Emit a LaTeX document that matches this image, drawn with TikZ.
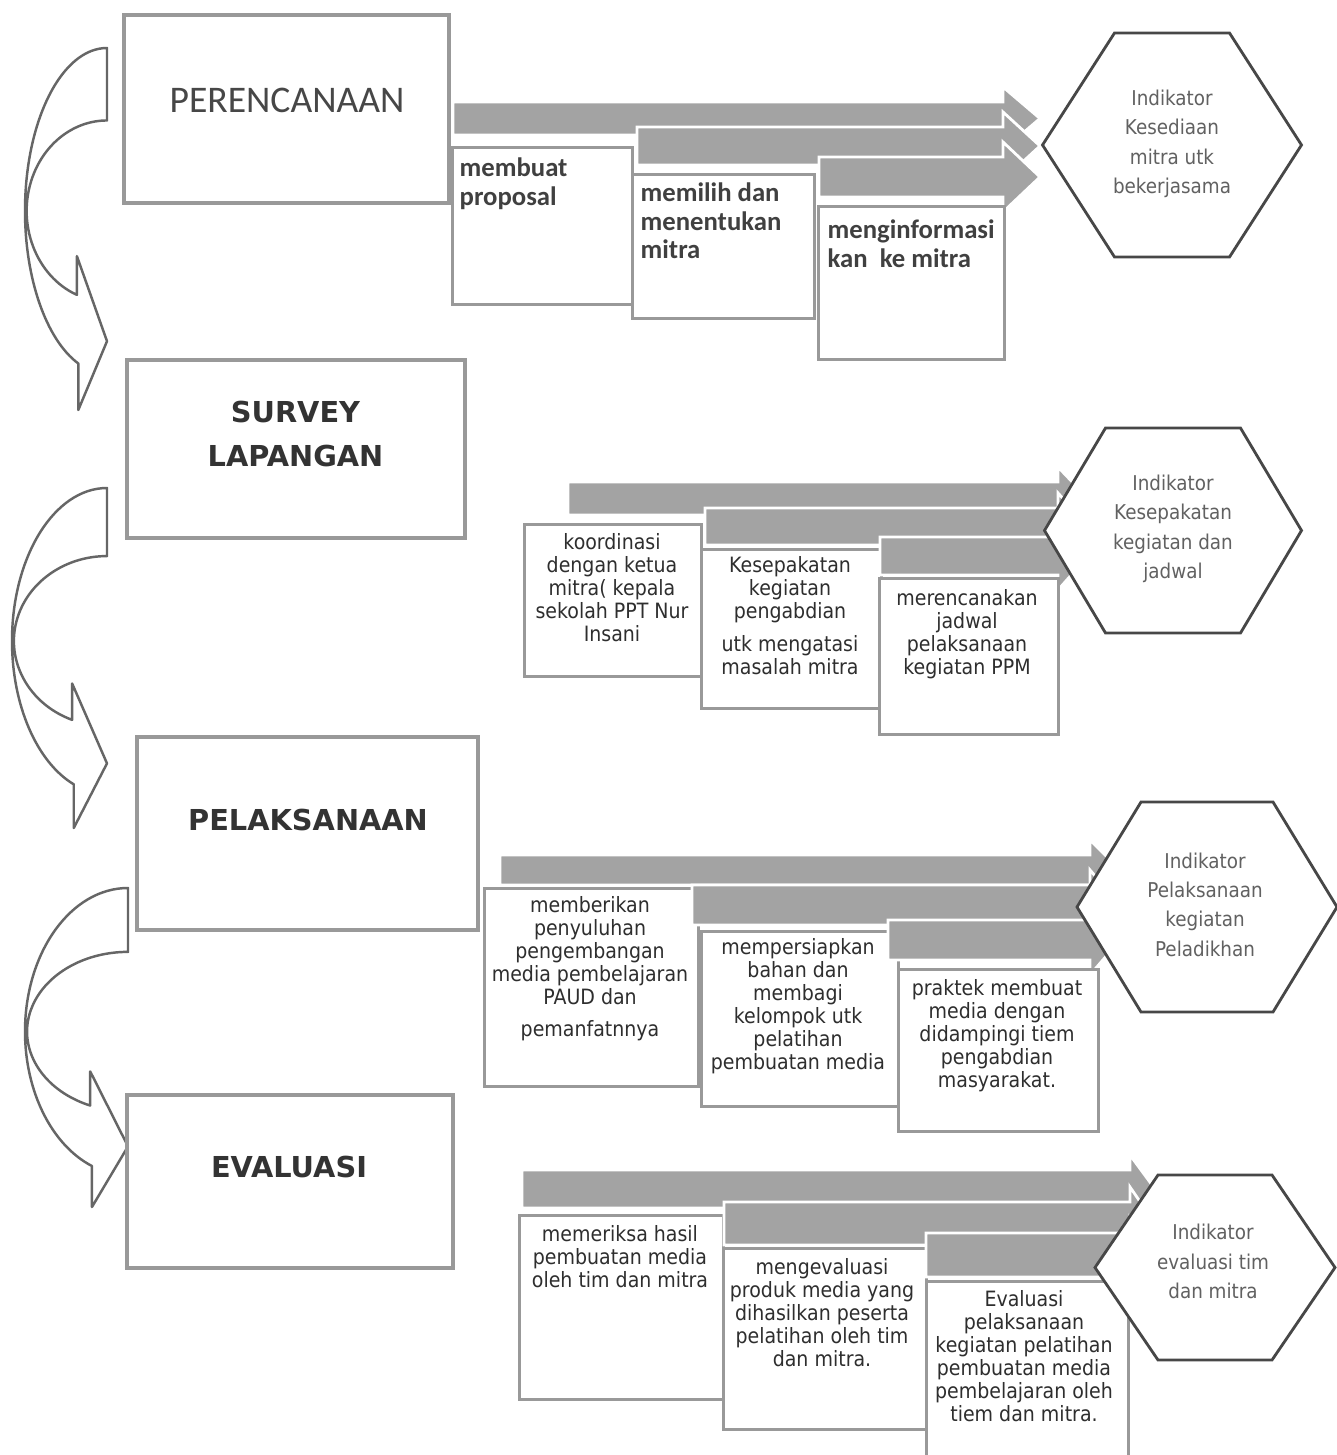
\documentclass[tikz,border=0pt]{standalone}
\usepackage{fontspec}
\setmainfont{DejaVu Sans}
\newfontfamily\calibfont{Carlito}
\newfontfamily\tahomafont{DejaVu Sans}[FakeStretch=0.9]

\tikzset{
  mainbox/.style={draw=black!40, line width=1.2pt, fill=white, inner sep=0pt},
  stagetitle/.style={font=\bfseries\fontsize{8.2}{12.5}\selectfont, text=black!80, align=center},
  stepbox/.style={draw=black!40, line width=0.9pt, fill=white, inner sep=0pt, anchor=north west},
  stepbar/.style={fill=black!36, draw=white, line width=0.8pt},
  plantext/.style={font=\calibfont\bfseries\fontsize{7.6}{8.1}\selectfont, text=black!75, align=left, anchor=north west, inner sep=0pt},
  steptext/.style={font=\tahomafont\fontsize{6}{6.55}\selectfont, text=black!82, align=center, anchor=north, inner sep=0pt},
  bendarrow/.style={draw=black!60, fill=white, line width=0.7pt, line join=round},
  hexline/.style={draw=black!72, fill=white, line width=0.8pt},
  hextext/.style={font=\tahomafont\fontsize{5.8}{8.35}\selectfont, text=black!62, align=center},
}

\begin{document}
\begin{tikzpicture}
	\useasboundingbox (0,0) rectangle (13.37,-14.55);
	\clip (0,0) rectangle (13.37,-14.55);
	\fill[white] (0,0) rectangle (13.37,-14.55);

	% bent arrows between the stages
	\foreach \sx/\sy/\w/\h in {0.25/-0.48/0.82/3.62, 0.12/-4.88/0.95/3.40, 0.25/-8.88/1.03/3.19}{
		\begin{scope}[shift={(\sx,\sy)}, xscale=\w, yscale=\h]
			\filldraw[bendarrow] (1,-0.2) -- (1,0)
				arc[start angle=90, end angle=249.5, x radius=1cm, y radius=0.45cm]
				-- (0.65,-1) -- (1,-0.81) -- (0.633,-0.575) -- (0.633,-0.682)
				arc[start angle=248, end angle=90, x radius=0.98cm, y radius=0.25cm] -- cycle;
		\end{scope}
	}

	% stages
	\node[mainbox, minimum width=3.25cm, minimum height=1.88cm] (plan) at (2.865,-1.09) {};
	\node[mainbox, minimum width=3.38cm, minimum height=1.78cm] (survey) at (2.96,-4.49) {};
	\node[mainbox, minimum width=3.41cm, minimum height=1.93cm] (exec) at (3.075,-8.335) {};
	\node[mainbox, minimum width=3.26cm, minimum height=1.73cm] (eval) at (2.90,-11.815) {};
	\node[font=\calibfont\fontsize{10.7}{12}\selectfont, text=black!72] (plantitle) at (2.87,-1.00) {PERENCANAAN};
	\node[stagetitle] (surveytitle) at (2.955,-4.34) {SURVEY\\LAPANGAN};
	\node[stagetitle] (exectitle) at (3.08,-8.20) {PELAKSANAAN};
	\node[stagetitle] (evaltitle) at (2.89,-11.67) {EVALUASI};

	% perencanaan steps
	\foreach \n/\xa/\ya/\yb/\bl/\bt/\bw/\bh in {1/4.53/-1.02/-1.35/4.51/-1.46/1.80/1.57, 2/6.37/-1.27/-1.65/6.31/-1.73/1.82/1.44, 3/8.19/-1.57/-1.97/8.17/-2.05/1.86/1.53}{
		\filldraw[stepbar] (\xa,\ya) -- (10.03,\ya) -- (10.03,{\ya+0.15}) -- (10.40,{(\ya+\yb)/2}) -- (10.03,{\yb-0.15}) -- (10.03,\yb) -- (\xa,\yb) -- cycle;
		\node[stepbox, minimum width={\bw*1cm}, minimum height={\bh*1cm}] (plan\n) at (\bl,\bt) {};
	}
	% survey steps
	\foreach \n/\xa/\ya/\yb/\bl/\bt/\bw/\bh in {1/5.68/-4.82/-5.15/5.23/-5.23/1.77/1.52, 2/7.05/-5.08/-5.45/7.00/-5.48/1.80/1.59, 3/8.80/-5.37/-5.75/8.78/-5.77/1.79/1.56}{
		\filldraw[stepbar] (\xa,\ya) -- (10.58,\ya) -- (10.58,{\ya+0.15}) -- (10.88,{(\ya+\yb)/2}) -- (10.58,{\yb-0.15}) -- (10.58,\yb) -- (\xa,\yb) -- cycle;
		\node[stepbox, minimum width={\bw*1cm}, minimum height={\bh*1cm}] (survey\n) at (\bl,\bt) {};
	}
	% pelaksanaan steps
	\foreach \n/\xa/\ya/\yb/\bl/\bt/\bw/\bh in {1/5.00/-8.55/-8.85/4.83/-8.87/2.14/1.98, 2/6.92/-8.85/-9.25/7.00/-9.30/1.97/1.75, 3/8.88/-9.20/-9.60/8.97/-9.68/2.00/1.62}{
		\filldraw[stepbar] (\xa,\ya) -- (10.90,\ya) -- (10.90,{\ya+0.15}) -- (11.20,{(\ya+\yb)/2}) -- (10.90,{\yb-0.15}) -- (10.90,\yb) -- (\xa,\yb) -- cycle;
		\node[stepbox, minimum width={\bw*1cm}, minimum height={\bh*1cm}] (exec\n) at (\bl,\bt) {};
	}
	% evaluasi steps
	\foreach \n/\xa/\ya/\yb/\bl/\bt/\bw/\bh in {1/5.22/-11.70/-12.08/5.18/-12.14/2.04/1.84, 2/7.24/-12.02/-12.45/7.22/-12.47/2.03/1.81, 3/9.26/-12.33/-12.77/9.25/-12.80/2.02/2.00}{
		\filldraw[stepbar] (\xa,\ya) -- (11.30,\ya) -- (11.30,{\ya+0.15}) -- (11.55,{(\ya+\yb)/2}) -- (11.30,{\yb-0.15}) -- (11.30,\yb) -- (\xa,\yb) -- cycle;
		\node[stepbox, minimum width={\bw*1cm}, minimum height={\bh*1cm}] (eval\n) at (\bl,\bt) {};
	}

	% indicators
	\foreach \n/\cx/\cy/\hw/\tw/\hh in {1/11.72/-1.45/1.295/0.575/1.12, 2/11.73/-5.305/1.285/0.675/1.025, 3/12.07/-9.07/1.30/0.66/1.05, 4/12.15/-12.675/1.20/0.57/0.925}{
		\coordinate (hex\n) at (\cx,\cy);
		\filldraw[hexline] (hex\n) +(-\hw,0) -- +(-\tw,\hh) -- +(\tw,\hh) -- +(\hw,0) -- +(\tw,-\hh) -- +(-\tw,-\hh) -- cycle;
	}
	\node[hextext] (ind1) at (11.72,-1.44) {Indikator\\Kesediaan\\mitra utk\\bekerjasama};
	\node[hextext] (ind2) at (11.73,-5.29) {Indikator\\Kesepakatan\\kegiatan dan\\jadwal};
	\node[hextext] (ind3) at (12.05,-9.045) {Indikator\\Pelaksanaan\\kegiatan\\Peladikhan};
	\node[hextext] (ind4) at (12.13,-12.615) {Indikator\\evaluasi tim\\dan mitra};

	% step texts
	\node[plantext] (plantxt1) at (4.59,-1.575) {membuat\\proposal};
	\node[plantext] (plantxt2) at (6.40,-1.825) {memilih dan\\menentukan\\mitra};
	\node[plantext] (plantxt3) at (8.27,-2.195) {menginformasi\\kan\ \ ke mitra};
	\node[steptext] (surtxt1) at (6.12,-5.33) {koordinasi\\dengan ketua\\mitra( kepala\\sekolah PPT Nur\\Insani};
	\node[steptext] (surtxt2) at (7.90,-5.56) {Kesepakatan\\kegiatan\\pengabdian\\[2.8pt]utk mengatasi\\masalah mitra};
	\node[steptext] (surtxt3) at (9.67,-5.89) {merencanakan\\jadwal\\pelaksanaan\\kegiatan PPM};
	\node[steptext] (exetxt1) at (5.90,-8.96) {memberikan\\penyuluhan\\pengembangan\\media pembelajaran\\PAUD dan\\[2.6pt]pemanfatnnya};
	\node[steptext] (exetxt2) at (7.98,-9.38) {mempersiapkan\\bahan dan\\membagi\\kelompok utk\\pelatihan\\pembuatan media};
	\node[steptext] (exetxt3) at (9.97,-9.79) {praktek membuat\\media dengan\\didampingi tiem\\pengabdian\\masyarakat.};
	\node[steptext] (evatxt1) at (6.20,-12.25) {memeriksa hasil\\pembuatan media\\oleh tim dan mitra};
	\node[steptext] (evatxt2) at (8.22,-12.58) {mengevaluasi\\produk media yang\\dihasilkan peserta\\pelatihan oleh tim\\dan mitra.};
	\node[steptext] (evatxt3) at (10.24,-12.90) {Evaluasi\\pelaksanaan\\kegiatan pelatihan\\pembuatan media\\pembelajaran oleh\\tiem dan mitra.};
\end{tikzpicture}
\end{document}
